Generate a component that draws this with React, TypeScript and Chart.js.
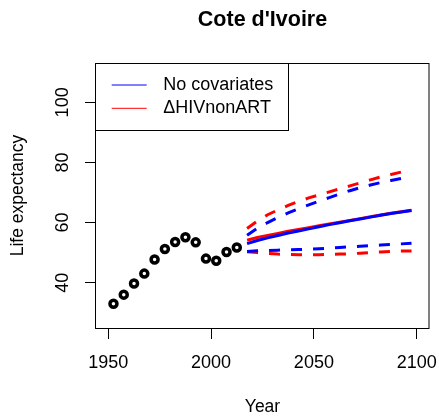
import React, { useEffect, useRef } from "react";
import { Chart, registerables } from "chart.js";

Chart.register(...registerables);

const chartTitle = "Cote d'Ivoire";
const xAxisTitle = "Year";
const yAxisTitle = "Life expectancy";
const legendLabels = ["No covariates", "\u0394HIVnonART"];

const histYears = [1952.5, 1957.5, 1962.5, 1967.5, 1972.5, 1977.5, 1982.5, 1987.5, 1992.5, 1997.5, 2002.5, 2007.5, 2012.5];
const histLife = [33.0, 36.0, 39.7, 43.0, 47.7, 51.2, 53.5, 55.1, 53.4, 48.0, 47.3, 50.2, 51.7];

const projYears = [2017.5, 2022.5, 2027.5, 2032.5, 2037.5, 2042.5, 2047.5, 2052.5, 2057.5, 2062.5, 2067.5, 2072.5, 2077.5, 2082.5, 2087.5, 2092.5, 2097.5];

const noCovMedian = [53.0, 54.0, 54.9, 55.7, 56.5, 57.2, 57.9, 58.6, 59.3, 59.9, 60.6, 61.2, 61.8, 62.4, 63.0, 63.5, 64.0];
const noCovUpper = [55.8, 58.1, 60.0, 61.7, 63.2, 64.6, 65.9, 67.1, 68.3, 69.5, 70.6, 71.6, 72.5, 73.3, 74.0, 74.7, 75.3];
const noCovLower = [50.4, 50.6, 50.7, 50.8, 50.9, 51.0, 51.1, 51.3, 51.5, 51.7, 51.9, 52.1, 52.3, 52.5, 52.7, 52.9, 53.1];

const hivMedian = [54.1, 55.0, 55.7, 56.4, 57.1, 57.7, 58.3, 58.9, 59.5, 60.1, 60.7, 61.3, 61.9, 62.5, 63.1, 63.6, 64.1];
const hivUpper = [58.0, 60.5, 62.6, 64.2, 65.7, 67.0, 68.2, 69.2, 70.2, 71.2, 72.2, 73.2, 74.2, 75.2, 76.0, 76.8, 77.5];
const hivLower = [50.3, 50.0, 49.7, 49.5, 49.4, 49.3, 49.3, 49.3, 49.4, 49.5, 49.6, 49.8, 50.0, 50.2, 50.4, 50.5, 50.5];

const xTicks = [1950, 2000, 2050, 2100];
const yTicks = [40, 60, 80, 100];

const X_MIN = 1944;
const X_MAX = 2106;
const Y_MIN = 24.9;
const Y_MAX = 113.1;

const BLUE = "#0000FF";
const RED = "#FF0000";
const FONT = "'Liberation Sans', Arial, Helvetica, sans-serif";

const pts = (xs: number[], ys: number[]) => xs.map((x, i) => ({ x, y: ys[i] }));

const rStylePlugin = {
  id: "rStyle",
  afterDraw(chart: any) {
    const { ctx, chartArea, scales } = chart;
    const { left, top, right, bottom } = chartArea;
    ctx.save();
    // plot box
    ctx.strokeStyle = "#000";
    ctx.lineWidth = 1;
    ctx.strokeRect(left - 0.5, top + 0.5, right - left + 0.5, bottom - top);

    // tick labels
    ctx.fillStyle = "#000";
    ctx.font = `18px ${FONT}`;
    ctx.textAlign = "center";
    ctx.textBaseline = "middle";
    const xs = scales.x;
    xs.ticks.forEach((t: any) => {
      const px = xs.getPixelForValue(t.value);
      ctx.fillText(String(t.value), px, bottom + 35);
    });
    const ys = scales.y;
    ys.ticks.forEach((t: any) => {
      const py = ys.getPixelForValue(t.value);
      ctx.save();
      ctx.translate(63.5, py);
      ctx.rotate(-Math.PI / 2);
      ctx.fillText(String(t.value), 0, 0);
      ctx.restore();
    });

    // legend
    const bx = left - 0.5;
    const by = top + 0.5;
    const bw = 193;
    const bh = 67;
    ctx.fillStyle = "#fff";
    ctx.fillRect(bx, by, bw, bh);
    ctx.strokeStyle = "#000";
    ctx.strokeRect(bx, by, bw, bh);
    const colors = [chart.data.datasets[1].borderColor, chart.data.datasets[4].borderColor];
    legendLabels.forEach((lab, i) => {
      const ly = top + 22 + i * 23.3;
      ctx.strokeStyle = colors[i];
      ctx.lineWidth = 1;
      ctx.beginPath();
      ctx.moveTo(left + 15.7, ly);
      ctx.lineTo(left + 50.7, ly);
      ctx.stroke();
      ctx.fillStyle = "#000";
      ctx.font = `18px ${FONT}`;
      ctx.textAlign = "left";
      ctx.textBaseline = "middle";
      ctx.fillText(lab, left + 67.3, ly);
    });
    ctx.restore();
  },
};

export default function App() {
  const canvasRef = useRef<HTMLCanvasElement | null>(null);

  useEffect(() => {
    document.body.style.margin = "0";
    const canvas = canvasRef.current;
    if (!canvas) return;

    const solid = (label: string, color: string, ys: number[]) => ({
      type: "line" as const,
      label,
      data: pts(projYears, ys),
      borderColor: color,
      backgroundColor: color,
      borderWidth: 3,
      pointRadius: 0,
      tension: 0,
      fill: false,
    });
    const dashed = (label: string, color: string, ys: number[]) => ({
      ...solid(label, color, ys),
      borderDash: [11, 11],
    });

    const chart = new Chart(canvas, {
      type: "line",
      data: {
        datasets: [
          {
            type: "line",
            label: "Observed",
            data: pts(histYears, histLife),
            showLine: false,
            pointStyle: "circle",
            pointRadius: 3.5,
            pointHoverRadius: 3.5,
            pointBorderWidth: 3.5,
            pointBorderColor: "#000",
            pointBackgroundColor: "rgba(0,0,0,0)",
            borderColor: "#000",
          } as any,
          solid(legendLabels[0], BLUE, noCovMedian),
          dashed(legendLabels[0] + " upper", BLUE, noCovUpper),
          dashed(legendLabels[0] + " lower", BLUE, noCovLower),
          solid(legendLabels[1], RED, hivMedian),
          dashed(legendLabels[1] + " upper", RED, hivUpper),
          dashed(legendLabels[1] + " lower", RED, hivLower),
        ],
      },
      options: {
        animation: false,
        responsive: false,
        devicePixelRatio: 1,
        layout: { padding: { left: 0, right: 10, top: 0, bottom: 0 } },
        plugins: {
          legend: { display: false },
          tooltip: { enabled: false },
          title: {
            display: true,
            text: chartTitle,
            fullSize: false,
            color: "#000",
            font: { family: FONT, size: 21.5, weight: "bold" },
            padding: { top: 7.1, bottom: 30.1 },
          },
        },
        scales: {
          x: {
            type: "linear",
            min: X_MIN,
            max: X_MAX,
            afterBuildTicks: (s: any) => {
              s.ticks = xTicks.map((v) => ({ value: v }));
            },
            afterFit: (s: any) => {
              s.height = 92;
            },
            ticks: { display: false },
            grid: {
              display: true,
              drawOnChartArea: false,
              drawTicks: true,
              tickLength: 11,
              color: "#000",
              lineWidth: 1,
            },
            border: { display: false },
            title: {
              display: true,
              text: xAxisTitle,
              color: "#000",
              font: { family: FONT, size: 17.5 },
              padding: { top: 0, bottom: 2 },
            },
          },
          y: {
            type: "linear",
            min: Y_MIN,
            max: Y_MAX,
            afterBuildTicks: (s: any) => {
              s.ticks = yTicks.map((v) => ({ value: v }));
            },
            afterFit: (s: any) => {
              s.width = 96;
            },
            ticks: { display: false },
            grid: {
              display: true,
              drawOnChartArea: false,
              drawTicks: true,
              tickLength: 11,
              color: "#000",
              lineWidth: 1,
            },
            border: { display: false },
            title: {
              display: true,
              text: yAxisTitle,
              color: "#000",
              font: { family: FONT, size: 17.5 },
              padding: { top: 7.8, bottom: 0 },
            },
          },
        },
      } as any,
      plugins: [rStylePlugin],
    });

    return () => chart.destroy();
  }, []);

  return (
    <div style={{ position: "absolute", left: 0, top: 0, width: 439, height: 420, background: "#fff" }}>
      <canvas ref={canvasRef} width={439} height={420} style={{ width: 439, height: 420, display: "block" }} />
    </div>
  );
}
